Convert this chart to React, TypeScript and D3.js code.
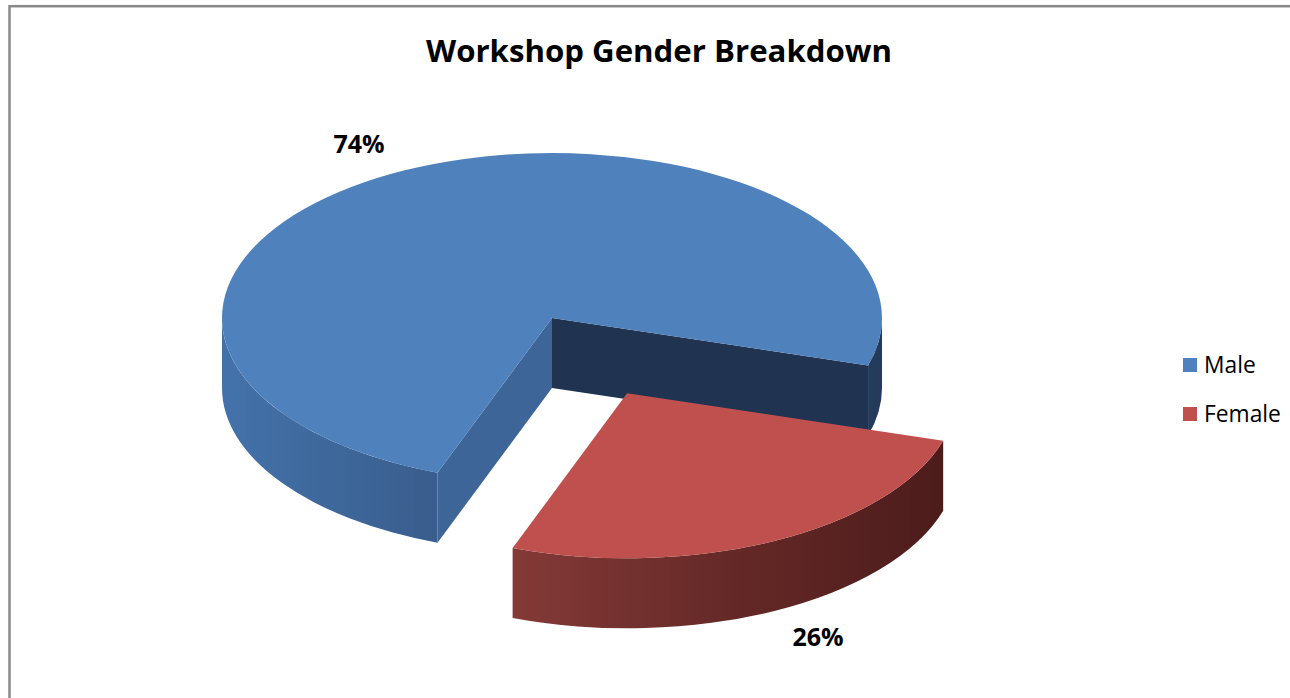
import React from "react";
import * as d3 from "d3";

const categories = ["Male", "Female"];
const values = [74, 26];
const labels = ["74%", "26%"];
const title = "Workshop Gender Breakdown";

const topColors = ["#4F81BD", "#C0504D"];

const W = 1290;
const H = 698;
const cx = 552;
const cy = 318;
const rx = 330;
const ry = 165;
const depth = 70;
const explode = [0, 0.51];
const deg = Math.PI / 180;

function pt(ox: number, oy: number, t: number, dy = 0): [number, number] {
  return [ox + rx * Math.cos(t), oy + ry * Math.sin(t) + dy];
}
function f(p: [number, number]) {
  return `${p[0].toFixed(2)},${p[1].toFixed(2)}`;
}

export default function App() {
  const pie = d3
    .pie<number>()
    .sort(null)
    .startAngle(200.3 * deg)
    .endAngle(560.3 * deg);
  const arcs = pie(values);

  const slices = arcs.map((a, i) => {
    // convert d3 angle (0 at 12 o'clock) to screen angle (0 at 3 o'clock)
    const a0 = a.startAngle - Math.PI / 2;
    const a1 = a.endAngle - Math.PI / 2;
    const mid = (a0 + a1) / 2;
    const ox = cx + explode[i] * rx * Math.cos(mid);
    const oy = cy + explode[i] * ry * Math.sin(mid);
    const large = a1 - a0 > Math.PI ? 1 : 0;
    const top = `M${ox},${oy} L${f(pt(ox, oy, a0))} A${rx},${ry} 0 ${large} 1 ${f(pt(ox, oy, a1))} Z`;
    const walls: string[] = [];
    for (let k = -1; k <= 2; k++) {
      const lo = Math.max(a0, 2 * Math.PI * k);
      const hi = Math.min(a1, 2 * Math.PI * k + Math.PI);
      if (hi > lo) {
        walls.push(
          `M${f(pt(ox, oy, lo))} A${rx},${ry} 0 0 1 ${f(pt(ox, oy, hi))} L${f(pt(ox, oy, hi, depth))} A${rx},${ry} 0 0 0 ${f(pt(ox, oy, lo, depth))} Z`
        );
      }
    }
    const faces: { d: string; kind: string }[] = [];
    const face = (t: number) =>
      `M${ox},${oy} L${f(pt(ox, oy, t))} L${f(pt(ox, oy, t, depth))} L${ox},${oy + depth} Z`;
    if (Math.cos(a0) < 0) faces.push({ d: face(a0), kind: "start" });
    if (Math.cos(a1) > 0) faces.push({ d: face(a1), kind: "end" });
    return { top, walls, faces, i };
  });

  const faceColor = (kind: string) => (kind === "start" ? "#3D6598" : "#203452");

  return (
    <div style={{ position: "absolute", left: 0, top: 0, width: W, height: H, overflow: "hidden" }}>
      <svg width={W} height={H} style={{ display: "block", background: "#fff" }}>
        <defs>
          <linearGradient id="wall0" gradientUnits="userSpaceOnUse" x1={cx - rx} x2={cx + rx} y1={0} y2={0}>
            <stop offset="0" stopColor="#4372AA" />
            <stop offset="0.33" stopColor="#395D8C" />
            <stop offset="0.65" stopColor="#2F4C75" />
            <stop offset="1" stopColor="#233A5A" />
          </linearGradient>
          <linearGradient id="wall1" gradientUnits="userSpaceOnUse" x1={513} x2={943} y1={0} y2={0}>
            <stop offset="0" stopColor="#843A37" />
            <stop offset="0.5" stopColor="#652927" />
            <stop offset="1" stopColor="#4C1C1B" />
          </linearGradient>
        </defs>
        <rect x={9.5} y={6.2} width={1300} height={720} fill="#fff" stroke="#898989" strokeWidth={2.5} />
        <text
          x={659}
          y={62}
          textAnchor="middle"
          fontFamily="'Open Sans', sans-serif"
          fontWeight="bold"
          fontSize={31.2}
          fill="#000"
        >
          {title}
        </text>
        {slices.map((s) => (
          <g key={s.i}>
            {s.faces.map((fc, j) => (
              <path key={"f" + j} d={fc.d} fill={faceColor(fc.kind)} />
            ))}
            {s.walls.map((w, j) => (
              <path key={"w" + j} d={w} fill={`url(#wall${s.i})`} />
            ))}
            <path d={s.top} fill={topColors[s.i]} />
          </g>
        ))}
        <text x={359} y={153} textAnchor="middle" fontFamily="'Open Sans', sans-serif" fontWeight="bold" fontSize={25} fill="#000">
          {labels[0]}
        </text>
        <text x={818} y={646} textAnchor="middle" fontFamily="'Open Sans', sans-serif" fontWeight="bold" fontSize={25} fill="#000">
          {labels[1]}
        </text>
        {categories.map((c, i) => (
          <g key={c} transform={`translate(1183,${358 + i * 49})`}>
            <rect x={0} y={0} width={14} height={14} fill={topColors[i]} />
            <text x={21} y={15} fontFamily="'Open Sans', sans-serif" fontSize={22.8} fill="#000">
              {c}
            </text>
          </g>
        ))}
      </svg>
    </div>
  );
}
